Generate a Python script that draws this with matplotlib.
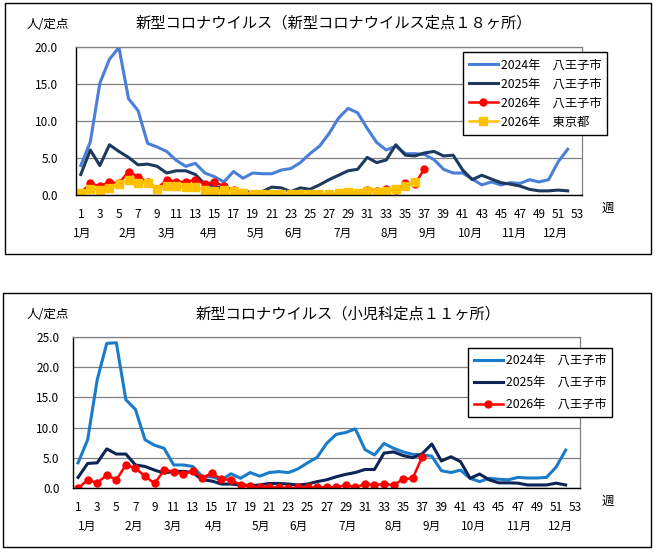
import numpy as np
import matplotlib
matplotlib.use("Agg")
import matplotlib.pyplot as plt
from matplotlib import patches

plt.rcParams['font.family'] = ['Noto Sans CJK JP', 'DejaVu Sans']

W, H = 655, 552

# weekly values (week 1 ..)
top_2024 = [4.0, 7.2, 15.1, 18.3, 19.9, 13.0, 11.4, 7.0, 6.5, 5.9,
            4.7, 3.9, 4.3, 3.0, 2.5, 1.8, 3.2, 2.3, 3.0, 2.9,
            2.9, 3.4, 3.6, 4.4, 5.6, 6.6, 8.3, 10.4, 11.7, 11.1,
            9.0, 7.1, 6.1, 6.6, 5.6, 5.6, 5.5, 4.8, 3.5, 3.0,
            3.0, 2.2, 1.4, 1.8, 1.4, 1.7, 1.6, 2.1, 1.8, 2.1,
            4.5, 6.2]
top_2025 = [2.8, 6.1, 4.0, 6.8, 5.9, 5.1, 4.1, 4.2, 3.9, 3.0,
            3.3, 3.3, 2.8, 1.5, 1.2, 0.9, 0.8, 0.5, 0.4, 0.5,
            1.1, 1.0, 0.5, 1.0, 0.8, 1.4, 2.1, 2.7, 3.3, 3.5,
            5.1, 4.4, 4.75, 6.8, 5.4, 5.3, 5.7, 5.9, 5.3, 5.4,
            3.4, 2.1, 2.7, 2.2, 1.7, 1.5, 1.25, 0.8, 0.6, 0.6,
            0.7, 0.6]
top_2026 = [0.35, 1.6, 1.2, 1.8, 1.6, 3.2, 2.5, 1.8, 0.9, 2.1,
            1.8, 1.8, 2.1, 1.5, 1.8, 1.2, 0.7, 0.2, 0.1, 0.0,
            0.1, 0.1, 0.1, 0.15, 0.1, 0.1, 0.0, 0.1, 0.5, 0.3,
            0.75, 0.6, 0.8, 0.65, 1.6, 1.5, 3.6]
top_tokyo = [0.3, 0.9, 0.7, 1.0, 1.5, 2.1, 1.7, 1.7, 0.85, 1.25,
             1.25, 1.1, 1.1, 0.7, 0.6, 0.7, 0.6, 0.35, 0.2, 0.15,
             0.15, 0.15, 0.15, 0.15, 0.15, 0.15, 0.2, 0.35, 0.4, 0.35,
             0.6, 0.5, 0.6, 0.8, 1.2, 1.8]

bot_2024 = [4.2, 8.0, 17.9, 23.9, 24.0, 14.6, 13.0, 8.0, 7.1, 6.6,
            3.85, 3.85, 3.6, 1.9, 1.9, 1.4, 2.4, 1.65, 2.6, 2.0,
            2.6, 2.75, 2.6, 3.2, 4.2, 5.1, 7.4, 8.9, 9.2, 9.8,
            6.4, 5.5, 7.4, 6.6, 6.0, 5.6, 5.5, 5.3, 2.9, 2.6,
            3.0, 1.65, 1.1, 1.65, 1.5, 1.4, 1.8, 1.7, 1.7, 1.8,
            3.5, 6.3]
bot_2025 = [1.8, 4.1, 4.2, 6.5, 5.65, 5.65, 3.85, 3.6, 3.0, 2.5,
            2.8, 2.8, 2.6, 1.4, 1.2, 0.7, 0.7, 0.55, 0.45, 0.55,
            0.8, 0.8, 0.7, 0.55, 0.7, 1.1, 1.4, 1.9, 2.3, 2.6,
            3.1, 3.1, 5.8, 6.0, 5.4, 5.05, 5.7, 7.3, 4.5, 5.2,
            4.4, 1.65, 2.35, 1.4, 0.9, 0.9, 0.85, 0.55, 0.55, 0.55,
            0.85, 0.55]
bot_2026 = [0.0, 1.4, 0.9, 2.2, 1.4, 3.85, 3.3, 2.0, 0.8, 3.0,
            2.75, 2.35, 2.85, 1.75, 2.5, 1.5, 1.4, 0.55, 0.4, 0.15,
            0.15, 0.15, 0.0, 0.15, 0.15, 0.15, 0.15, 0.15, 0.55, 0.15,
            0.7, 0.55, 0.7, 0.55, 1.5, 1.65, 5.2]

week_ticks = list(range(1, 54, 2))
months = ['1月', '2月', '3月', '4月', '5月', '6月', '7月', '8月', '9月', '10月', '11月', '12月']
month_pos_top = [1.1, 5.9, 10.0, 14.4, 19.3, 23.3, 28.4, 33.3, 37.3, 41.8, 46.4, 50.7]
month_pos_bot = [1.9, 6.8, 10.9, 15.2, 20.1, 24.1, 29.2, 34.0, 38.0, 42.4, 47.2, 51.5]

title_top = '新型コロナウイルス（新型コロナウイルス定点１８ヶ所）'
title_bot = '新型コロナウイルス（小児科定点１１ヶ所）'
lab_2024 = '2024年　八王子市'
lab_2025 = '2025年　八王子市'
lab_2026 = '2026年　八王子市'
lab_tokyo = '2026年　東京都'

fig = plt.figure(figsize=(W / 100, H / 100), dpi=100)


def ftext(x, y, s, **kw):
    fig.text(x / W, 1 - y / H, s, **kw)


def frame(x0, y0, x1, y1):
    fig.patches.append(patches.Rectangle((x0 / W, 1 - y1 / H), (x1 - x0) / W, (y1 - y0) / H,
                                         transform=fig.transFigure, fill=False,
                                         edgecolor='black', linewidth=1.0))


def make_ax(x0, y0, x1, y1, ymax, ypad):
    ax = fig.add_axes([x0 / W, 1 - y1 / H, (x1 - x0) / W, (y1 - y0) / H])
    ax.set_xlim(0.5, 53.5)
    ax.set_ylim(0, ymax)
    ax.set_yticks(np.arange(0, ymax + 0.1, 5))
    ax.set_yticklabels(['%.1f' % v for v in np.arange(0, ymax + 0.1, 5)])
    ax.set_xticks(week_ticks)
    ax.tick_params(axis='both', length=0, labelsize=8.5)
    ax.tick_params(axis='y', pad=ypad)
    ax.tick_params(axis='x', pad=9)
    ax.grid(axis='y', color='#808080', linewidth=0.9)
    ax.set_axisbelow(True)
    for s in ['top', 'right']:
        ax.spines[s].set_color('#808080')
        ax.spines[s].set_linewidth(0.9)
    for s in ['left', 'bottom']:
        ax.spines[s].set_color('black')
        ax.spines[s].set_linewidth(1.0)
    return ax


def weeks(vals):
    return np.arange(1, len(vals) + 1)


# ---- top chart ----
frame(5, 3, 651, 254)
ax1 = make_ax(76, 46.7, 582, 195.3, 20, 13)
ax1.plot(weeks(top_2024), top_2024, color='#4A7FD8', lw=2.2, label=lab_2024)
ax1.plot(weeks(top_2025), top_2025, color='#1C3A5E', lw=2.2, label=lab_2025)
ax1.plot(weeks(top_2026), top_2026, color='#FF0000', lw=1.8, marker='o', ms=5, label=lab_2026)
ax1.plot(weeks(top_tokyo), top_tokyo, color='#FFC000', lw=1.8, marker='s', ms=5.5, label=lab_tokyo)
for m, p in zip(months, month_pos_top):
    ax1.text(p, -0.255, m, transform=ax1.get_xaxis_transform(), ha='center', va='center', fontsize=8.5)
leg1 = ax1.legend(loc='upper left', bbox_to_anchor=((462.7 - 76) / 506, 1 - (52.3 - 46.7) / 148.6),
                  borderaxespad=0, fancybox=False, edgecolor='black', framealpha=1, fontsize=8.8,
                  handlelength=2.4, borderpad=0.5, labelspacing=0.5, handletextpad=0.2)
leg1.get_frame().set_linewidth(1.0)
ftext(334, 23, title_top, ha='center', va='center', fontsize=11)
ftext(48, 25, '人/定点', ha='center', va='center', fontsize=9)
ftext(608, 208, '週', ha='center', va='center', fontsize=9)

# ---- bottom chart ----
frame(3, 293, 651, 547)
ax2 = make_ax(73.3, 336.7, 580, 488.3, 25, 10)
ax2.plot(weeks(bot_2024), bot_2024, color='#1A7CC8', lw=2.2, label=lab_2024)
ax2.plot(weeks(bot_2025), bot_2025, color='#0D2456', lw=2.2, label=lab_2025)
ax2.plot(weeks(bot_2026), bot_2026, color='#FF0000', lw=1.8, marker='o', ms=5, label=lab_2026)
for m, p in zip(months, month_pos_bot):
    ax2.text(p, -0.253, m, transform=ax2.get_xaxis_transform(), ha='center', va='center', fontsize=8.5)
leg2 = ax2.legend(loc='upper left', bbox_to_anchor=((467.7 - 73.3) / 506.7, 1 - (347.7 - 336.7) / 151.6),
                  borderaxespad=0, fancybox=False, edgecolor='black', framealpha=1, fontsize=8.8,
                  handlelength=2.4, borderpad=0.5, labelspacing=0.75, handletextpad=0.2)
leg2.get_frame().set_linewidth(1.0)
ftext(348, 314, title_bot, ha='center', va='center', fontsize=11)
ftext(48, 315, '人/定点', ha='center', va='center', fontsize=9)
ftext(608, 501, '週', ha='center', va='center', fontsize=9)

fig.savefig('out.png', dpi=100)
